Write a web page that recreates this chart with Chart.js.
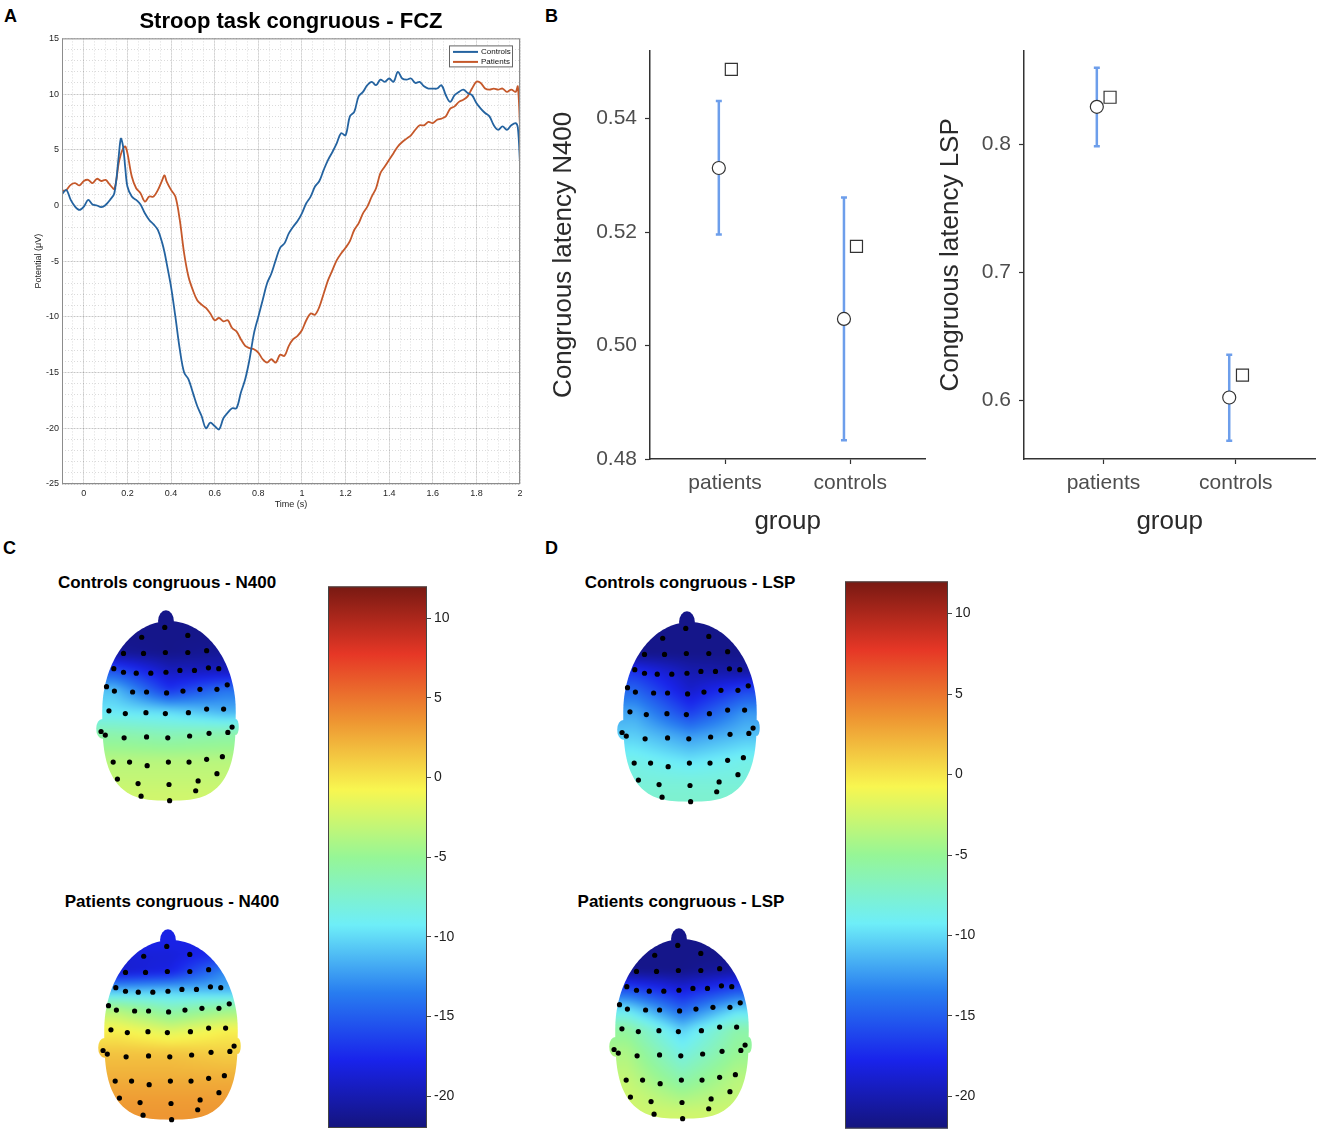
<!DOCTYPE html>
<html>
<head>
<meta charset="utf-8">
<title>Stroop task congruous</title>
<script src="https://cdn.jsdelivr.net/npm/chart.js@4.4.1/dist/chart.umd.min.js"></script>
<style>
  body { margin: 0; background: #fff; }
  #page { position: relative; width: 1325px; height: 1140px; overflow: hidden; font-family: "Liberation Sans", Arial, sans-serif; color: #000; }
  #page canvas { position: absolute; }
  .letter { position: absolute; font-weight: bold; font-size: 18px; line-height: 18px; }
  .maptitle { position: absolute; font-weight: bold; font-size: 17px; line-height: 17px; white-space: nowrap; transform: translate(-50%, -50%); }
</style>
</head>
<body>
<div id="page">
  <div class="letter" style="left:4px;top:7px">A</div>
  <div class="letter" style="left:545px;top:7px">B</div>
  <div class="letter" style="left:3px;top:539px">C</div>
  <div class="letter" style="left:545px;top:539px">D</div>

  <canvas id="erpChart" width="535" height="520" style="left:0;top:0"></canvas>
  <canvas id="n400Chart" width="390" height="510" style="left:545px;top:30px"></canvas>
  <canvas id="lspChart" width="395" height="510" style="left:930px;top:30px"></canvas>

  <div class="maptitle" style="left:167px;top:582px">Controls congruous - N400</div>
  <div class="maptitle" style="left:172px;top:901px">Patients congruous - N400</div>
  <div class="maptitle" style="left:690px;top:582px">Controls congruous - LSP</div>
  <div class="maptitle" style="left:681px;top:901px">Patients congruous - LSP</div>

  <canvas id="mapCtrlN400" width="190" height="230" style="left:74px;top:589px"></canvas>
  <canvas id="mapPatN400" width="190" height="230" style="left:76px;top:908px"></canvas>
  <canvas id="mapCtrlLSP" width="190" height="230" style="left:595px;top:590px"></canvas>
  <canvas id="mapPatLSP" width="190" height="230" style="left:587px;top:907px"></canvas>

  <canvas id="barN400" width="160" height="565" style="left:320px;top:575px"></canvas>
  <canvas id="barLSP" width="165" height="570" style="left:837px;top:570px"></canvas>
</div>

<script>
// ---- Panel A: grand average ERP at FCZ ----
const timePoints = [
  -0.1, -0.08, -0.06, -0.04, -0.02, 0, 0.02, 0.04, 0.06, 0.08,
  0.1, 0.12, 0.14, 0.16, 0.17, 0.18, 0.19, 0.2, 0.22, 0.24,
  0.26, 0.28, 0.3, 0.32, 0.34, 0.36, 0.37, 0.38, 0.4, 0.42,
  0.44, 0.46, 0.48, 0.5, 0.52, 0.54, 0.56, 0.58, 0.6, 0.62,
  0.64, 0.66, 0.68, 0.7, 0.72, 0.74, 0.76, 0.78, 0.8, 0.82,
  0.84, 0.86, 0.88, 0.9, 0.92, 0.94, 0.96, 0.98, 1.0, 1.02,
  1.04, 1.06, 1.08, 1.1, 1.12, 1.14, 1.16, 1.18, 1.2, 1.22,
  1.24, 1.26, 1.28, 1.3, 1.32, 1.34, 1.36, 1.38, 1.4, 1.42,
  1.44, 1.46, 1.48, 1.5, 1.52, 1.54, 1.56, 1.58, 1.6, 1.62,
  1.64, 1.66, 1.68, 1.7, 1.72, 1.74, 1.76, 1.78, 1.8, 1.82,
  1.84, 1.86, 1.88, 1.9, 1.92, 1.94, 1.96, 1.98, 1.99, 2.0
];
const controlsERP = [
  1.0, 1.4, 0.5, -0.1, -0.4, -0.1, 0.5, 0.1, 0.0, -0.15,
  0.05, 0.5, 1.1, 4.4, 6.0, 5.3, 3.4, 1.7, 0.8, 0.5,
  0.1, -0.7, -1.3, -1.7, -2.2, -3.4, -4.2, -5.2, -7.3, -10.0,
  -12.9, -15.0, -15.6, -16.8, -18.0, -18.9, -20.0, -19.5, -19.8, -20.1,
  -19.1, -18.6, -18.2, -18.2, -16.8, -15.6, -13.8, -11.5, -10.0, -8.5,
  -7.0, -6.1, -4.9, -3.8, -3.4, -2.5, -1.9, -1.4, -0.7, 0.2,
  0.8, 1.7, 2.2, 3.2, 4.1, 4.8, 5.6, 6.5, 6.3, 8.0,
  8.4, 9.8, 10.2, 10.8, 11.1, 10.8, 11.3, 11.1, 11.4, 11.1,
  12.0, 11.4, 11.3, 11.4, 11.0, 11.1, 10.7, 10.5, 10.5, 10.5,
  10.8, 9.9, 9.3, 9.9, 10.2, 10.4, 10.1, 9.9, 9.2, 8.7,
  8.3, 8.0, 7.2, 6.8, 7.1, 6.8, 7.2, 7.4, 7.0, 3.8
];
const patientsERP = [
  1.3, 1.4, 1.85, 2.0, 1.8, 2.2, 2.3, 2.0, 2.4, 2.2,
  2.3, 1.85, 1.5, 3.8, 4.6, 5.1, 5.3, 4.7, 2.6, 1.55,
  1.1, 0.35, 0.8, 0.8, 1.4, 2.3, 2.7, 2.15, 1.4, 0.8,
  -1.3, -4.3, -6.4, -7.6, -8.5, -8.9, -9.2, -9.7, -10.3, -10.1,
  -10.4, -10.3, -11.0, -11.3, -12.0, -12.6, -12.8, -12.9, -13.2, -13.8,
  -14.1, -13.8, -14.1, -13.4, -13.5, -12.6, -12.0, -11.7, -11.2, -10.3,
  -9.7, -9.8, -9.1, -7.9, -6.7, -5.8, -4.9, -4.3, -3.8, -3.2,
  -2.2, -1.6, -0.7, -0.1, 0.8, 1.55, 2.9, 3.5, 4.1, 4.7,
  5.3, 5.7, 6.0, 6.3, 6.8, 7.2, 7.2, 7.5, 7.4, 7.7,
  7.8, 8.0, 8.7, 8.9, 9.3, 9.5, 9.8, 10.5, 11.1, 11.0,
  10.5, 10.4, 10.5, 10.4, 10.5, 10.2, 10.4, 10.2, 10.7, 7.1
];

// ---- Panel B: latency by group ----
const groups = ['patients', 'controls'];
const n400Mean = [0.5313, 0.5047];
const n400Low = [0.5196, 0.4833];
const n400High = [0.5431, 0.5261];
const n400Square = [0.5487, 0.5175];
const lspMean = [0.8295, 0.6021];
const lspLow = [0.7987, 0.5683];
const lspHigh = [0.8600, 0.6355];
const lspSquare = [0.8370, 0.6196];

// ---- Panels C/D: scalp maps ----
// electrode layout (head coordinates, rows from front to back)
const electrodeRows = [
  [[-0.07, 0.93]],
  [[-0.45, 0.82], [0.31, 0.84]],
  [[-0.75, 0.64], [-0.42, 0.64], [-0.06, 0.65], [0.31, 0.65], [0.62, 0.67]],
  [[-0.91, 0.47], [-0.75, 0.43], [-0.54, 0.42], [-0.30, 0.42], [-0.05, 0.43], [0.18, 0.45], [0.42, 0.45], [0.65, 0.48], [0.82, 0.47]],
  [[-1.03, 0.27], [-0.90, 0.22], [-0.60, 0.21], [-0.37, 0.21], [-0.04, 0.20], [0.23, 0.22], [0.51, 0.24], [0.79, 0.24], [0.96, 0.29]],
  [[-0.99, 0.0], [-0.72, -0.03], [-0.38, -0.02], [-0.06, -0.03], [0.32, -0.02], [0.62, 0.02], [0.90, 0.02]],
  [[-1.12, -0.23], [-1.05, -0.27], [-0.74, -0.30], [-0.37, -0.29], [-0.02, -0.30], [0.34, -0.28], [0.66, -0.25], [0.97, -0.24], [1.04, -0.18]],
  [[-0.92, -0.57], [-0.65, -0.57], [-0.36, -0.61], [-0.01, -0.57], [0.33, -0.57], [0.62, -0.54], [0.88, -0.51]],
  [[-0.85, -0.76], [-0.51, -0.81], [0.0, -0.82], [0.48, -0.78], [0.79, -0.70]],
  [[-0.46, -0.95], [0.01, -1.0], [0.44, -0.89]]
];
// potential per electrode row: [left, midline, right] in µV
const ctrlN400 = [
  [-21.5, -21.5, -21.5], [-21.5, -21.5, -21.5], [-21, -21.5, -21], [-15.5, -19.5, -19.5], [-11, -17, -14],
  [-9.5, -10, -11.5], [-6, -6.5, -6], [-3.5, -3.5, -3.5], [-3, -3, -3], [-2.5, -2.5, -2.5]
];
const patN400 = [
  [-18, -18, -18], [-18.5, -18.5, -17], [-19, -18, -13], [-11.5, -11, -11.5], [-4, -6.5, -5],
  [-0.5, -2, -0.5], [1.5, 1.5, 1], [2.5, 2.5, 2.5], [3.2, 3.2, 3.2], [3.5, 3.5, 3.5]
];
const ctrlLSP = [
  [-21.5, -21.5, -21.5], [-21.5, -21.5, -21.5], [-21.5, -21.5, -21.5], [-17, -20, -20.5], [-14.5, -19, -16],
  [-12, -16.5, -12.5], [-10.5, -12.5, -11], [-8.5, -9.5, -8.5], [-8, -8, -8], [-7.5, -7.5, -7.5]
];
const patLSP = [
  [-21.5, -21.5, -21.5], [-21.5, -21.5, -21.5], [-21.5, -21.5, -20.5], [-16, -18.5, -16], [-10, -15, -10.5],
  [-5.5, -10.5, -6], [-4, -8.5, -5], [-3, -6, -3.5], [-2.5, -4, -3], [-2.5, -2.5, -2.5]
];
const colorRange = [-22, 12];

Chart.defaults.font.family = '"Liberation Sans", Arial, sans-serif';
Chart.defaults.animation = false;
Chart.defaults.color = '#222';

// jet-like colour map
const jetStops = [
  [0, [20, 20, 125]], [0.125, [25, 35, 235]], [0.25, [40, 125, 240]], [0.375, [110, 238, 248]],
  [0.5, [150, 246, 150]], [0.625, [248, 246, 80]], [0.75, [238, 150, 50]], [0.875, [230, 55, 38]], [1, [120, 25, 18]]
];
function jetRGB(value) {
  let t = (value - colorRange[0]) / (colorRange[1] - colorRange[0]);
  t = Math.max(0, Math.min(1, t));
  for (let i = 0; i < jetStops.length - 1; i++) {
    const [p0, c0] = jetStops[i], [p1, c1] = jetStops[i + 1];
    if (t <= p1) {
      const f = (t - p0) / (p1 - p0);
      return [0, 1, 2].map(k => Math.round(c0[k] + (c1[k] - c0[k]) * f));
    }
  }
  return jetStops[jetStops.length - 1][1];
}

// ================= Panel A =================
const matlabBox = {
  id: 'matlabBox',
  afterDraw(chart) {
    const {ctx, chartArea: a} = chart;
    ctx.save();
    ctx.strokeStyle = '#8c8c8c';
    ctx.lineWidth = 1;
    ctx.strokeRect(a.left + 0.5, a.top + 0.5, a.width - 1, a.height - 1);
    // legend in the upper right corner
    const w = 64, h = 22, x = a.right - 7 - w, y = a.top + 7;
    ctx.fillStyle = '#fff';
    ctx.fillRect(x, y, w, h);
    ctx.strokeStyle = '#666';
    ctx.strokeRect(x + 0.5, y + 0.5, w - 1, h - 1);
    ctx.font = '8px "Liberation Sans", Arial, sans-serif';
    ctx.textBaseline = 'middle';
    chart.data.datasets.forEach((ds, i) => {
      const ly = y + 6.5 + i * 10;
      ctx.strokeStyle = ds.borderColor;
      ctx.lineWidth = 2;
      ctx.beginPath();
      ctx.moveTo(x + 4, ly);
      ctx.lineTo(x + 29, ly);
      ctx.stroke();
      ctx.fillStyle = '#111';
      ctx.fillText(ds.label, x + 32, ly);
    });
    ctx.restore();
  }
};

new Chart(document.getElementById('erpChart'), {
  type: 'line',
  data: {
    datasets: [
      {
        label: 'Controls',
        data: timePoints.map((t, i) => ({x: t, y: controlsERP[i]})),
        borderColor: '#2463a0',
        borderWidth: 1.8,
        pointRadius: 0,
        tension: 0.35
      },
      {
        label: 'Patients',
        data: timePoints.map((t, i) => ({x: t, y: patientsERP[i]})),
        borderColor: '#c5582a',
        borderWidth: 1.8,
        pointRadius: 0,
        tension: 0.35
      }
    ]
  },
  options: {
    responsive: false,
    events: [],
    layout: {padding: {right: 15}},
    plugins: {
      legend: {display: false},
      tooltip: {enabled: false},
      title: {
        display: true,
        text: 'Stroop task congruous - FCZ',
        fullSize: false,
        color: '#000',
        font: {size: 22, weight: 'bold'},
        padding: {top: 9, bottom: 3}
      }
    },
    scales: {
      x: {
        type: 'linear',
        min: -0.1,
        max: 2,
        ticks: {
          stepSize: 0.2,
          includeBounds: false,
          autoSkip: false,
          maxRotation: 0,
          padding: 4,
          color: '#262626',
          font: {size: 9},
          callback: v => String(Number(v.toFixed(2)))
        },
        grid: {color: 'rgba(0,0,0,0.10)', drawTicks: false},
        border: {display: false},
        title: {display: true, text: 'Time (s)', color: '#262626', font: {size: 9}, padding: {top: 0, bottom: 10}},
        afterFit: s => { s.height = 36; }
      },
      xMinor: {
        type: 'linear',
        position: 'bottom',
        min: -0.1,
        max: 2,
        ticks: {display: false, stepSize: 0.05},
        grid: {color: 'rgba(0,0,0,0.14)', drawTicks: false, borderDash: [1, 2]},
        border: {display: false, dash: [1, 2]},
        afterFit: s => { s.height = 0; }
      },
      y: {
        min: -25,
        max: 15,
        ticks: {stepSize: 5, padding: 3, color: '#262626', font: {size: 9}},
        grid: {color: 'rgba(0,0,0,0.10)', drawTicks: false},
        border: {display: false},
        title: {display: true, text: 'Potential (μV)', color: '#262626', font: {size: 9}, padding: {top: 33, bottom: 0}},
        afterFit: s => { s.width = 62; }
      },
      yMinor: {
        type: 'linear',
        position: 'left',
        min: -25,
        max: 15,
        ticks: {display: false, stepSize: 1},
        grid: {color: 'rgba(0,0,0,0.14)', drawTicks: false, borderDash: [1, 2]},
        border: {display: false, dash: [1, 2]},
        afterFit: s => { s.width = 0; }
      }
    }
  },
  plugins: [matlabBox]
});

// ================= Panel B =================
const errColor = '#6d9eeb';
const dodgeMean = -0.05;
const dodgeSquare = 0.05;

function latencyChart(id, means, lows, highs, squares, yMin, yMax, yStep, decimals, yTitle, axisWidth, pad, titlePad) {
  const errorSets = groups.map((g, i) => ({
    type: 'line',
    data: [{x: i + 1 + dodgeMean, y: lows[i]}, {x: i + 1 + dodgeMean, y: highs[i]}],
    borderColor: errColor,
    borderWidth: 2.5,
    pointStyle: 'line',
    pointRadius: 3,
    pointBorderWidth: 2.5,
    pointBorderColor: errColor,
    order: 3
  }));
  const axisCommon = {
    grid: {drawOnChartArea: false, drawTicks: true, tickLength: 5, tickColor: '#333', tickWidth: 1.2},
    border: {color: '#333', width: 1.5}
  };
  return new Chart(document.getElementById(id), {
    type: 'scatter',
    data: {
      datasets: [
        ...errorSets,
        {
          data: squares.map((v, i) => ({x: i + 1 + dodgeSquare, y: v})),
          pointStyle: 'rect',
          pointRadius: 8.5,
          backgroundColor: '#fff',
          borderColor: '#333',
          borderWidth: 1.2,
          order: 2
        },
        {
          data: means.map((v, i) => ({x: i + 1 + dodgeMean, y: v})),
          pointStyle: 'circle',
          pointRadius: 6.5,
          backgroundColor: '#fff',
          borderColor: '#333',
          borderWidth: 1.2,
          order: 1
        }
      ]
    },
    options: {
      responsive: false,
      events: [],
      layout: {padding: pad},
      plugins: {legend: {display: false}, tooltip: {enabled: false}},
      scales: {
        x: {
          type: 'linear',
          min: 0.4,
          max: 2.6,
          afterBuildTicks: s => { s.ticks = groups.map((g, i) => ({value: i + 1})); },
          ticks: {
            autoSkip: false,
            maxRotation: 0,
            padding: 7,
            color: '#4d4d4d',
            font: {size: 21},
            callback: v => groups[Math.round(v) - 1]
          },
          ...axisCommon,
          title: {display: true, text: 'group', color: '#2a2a2a', font: {size: 26}, padding: {top: 0, bottom: 3}},
          afterFit: s => { s.height = 81; }
        },
        y: {
          min: yMin,
          max: yMax,
          ticks: {
            stepSize: yStep,
            includeBounds: false,
            padding: 8,
            color: '#4d4d4d',
            font: {size: 21},
            callback: v => v.toFixed(decimals)
          },
          ...axisCommon,
          title: {display: true, text: yTitle, color: '#2a2a2a', font: {size: 26}, padding: {top: titlePad, bottom: 0}},
          afterFit: s => { s.width = axisWidth; }
        }
      }
    }
  });
}

latencyChart('n400Chart', n400Mean, n400Low, n400High, n400Square,
  0.48, 0.552, 0.02, 2, 'Congruous latency N400', 105, {top: 15, right: 9}, 3);
latencyChart('lspChart', lspMean, lspLow, lspHigh, lspSquare,
  0.554, 0.8735, 0.1, 1, 'Congruous latency LSP', 94, {top: 17, right: 8}, 5);

// ================= Panels C / D =================
const rowCentres = electrodeRows.map(r => r.reduce((s, p) => s + p[1], 0) / r.length);

function rowValueAt(vals, u) {
  const t = Math.max(-1, Math.min(1, u / 0.9));
  return t < 0 ? vals[1] + (vals[0] - vals[1]) * (-t) : vals[1] + (vals[2] - vals[1]) * t;
}
function fieldAt(u, v, rows) {
  const last = rowCentres.length - 1;
  if (v >= rowCentres[0]) return rowValueAt(rows[0], u);
  if (v <= rowCentres[last]) return rowValueAt(rows[last], u);
  for (let i = 0; i < last; i++) {
    if (v <= rowCentres[i] && v >= rowCentres[i + 1]) {
      const f = (rowCentres[i] - v) / (rowCentres[i] - rowCentres[i + 1]);
      return rowValueAt(rows[i], u) * (1 - f) + rowValueAt(rows[i + 1], u) * f;
    }
  }
  return rowValueAt(rows[last], u);
}

function headShapes(ctx, cx, cy, sx, sy) {
  const shapes = [];
  // scalp: round front half, squarer back half
  shapes.push(() => {
    const a = 1.1, n = 3;
    ctx.beginPath();
    for (let k = 0; k <= 180; k++) {
      const t = k / 180 * 2 * Math.PI;
      const c = Math.cos(t), s = Math.sin(t);
      let u, v;
      if (s >= 0) { u = a * c; v = s; }
      else { u = a * Math.sign(c) * Math.pow(Math.abs(c), 2 / n); v = -Math.pow(-s, 2 / n); }
      const X = cx + u * sx, Y = cy - v * sy;
      if (k) ctx.lineTo(X, Y); else ctx.moveTo(X, Y);
    }
    ctx.closePath();
  });
  // ears and nose
  [[-1.1, -0.2, 0.1, 0.11], [1.1, -0.18, 0.05, 0.09], [-0.05, 1.0, 0.13, 0.12]].forEach(([eu, ev, ru, rv]) => {
    shapes.push(() => {
      ctx.beginPath();
      ctx.ellipse(cx + eu * sx, cy - ev * sy, ru * sx, rv * sy, 0, 0, 2 * Math.PI);
    });
  });
  return shapes;
}

function topoPlugin(rows) {
  return {
    id: 'topoField',
    beforeDatasetsDraw(chart) {
      const {ctx, chartArea: a, scales: {x, y}} = chart;
      const w = Math.round(a.width), h = Math.round(a.height);
      const off = document.createElement('canvas');
      off.width = w;
      off.height = h;
      const octx = off.getContext('2d');
      const img = octx.createImageData(w, h);
      for (let py = 0; py < h; py++) {
        const v = y.getValueForPixel(a.top + py + 0.5);
        for (let px = 0; px < w; px++) {
          const u = x.getValueForPixel(a.left + px + 0.5);
          const c = jetRGB(fieldAt(u, v, rows));
          const k = (py * w + px) * 4;
          img.data[k] = c[0];
          img.data[k + 1] = c[1];
          img.data[k + 2] = c[2];
          img.data[k + 3] = 255;
        }
      }
      octx.putImageData(img, 0, 0);
      // soften the row-to-row interpolation
      const soft = document.createElement('canvas');
      soft.width = w;
      soft.height = h;
      const sctx = soft.getContext('2d');
      sctx.drawImage(off, 0, 0);
      sctx.filter = 'blur(3px)';
      sctx.drawImage(off, 0, 0);
      const cx = x.getPixelForValue(0), cy = y.getPixelForValue(0);
      const sx = x.getPixelForValue(1) - cx, sy = cy - y.getPixelForValue(1);
      headShapes(ctx, cx, cy, sx, sy).forEach(shape => {
        ctx.save();
        shape();
        ctx.clip();
        ctx.drawImage(soft, a.left, a.top, w, h);
        ctx.restore();
      });
    }
  };
}

function topoChart(id, rows) {
  new Chart(document.getElementById(id), {
    type: 'scatter',
    data: {
      datasets: [{
        data: electrodeRows.flat().map(([u, v]) => ({x: u, y: v})),
        pointRadius: 2.6,
        backgroundColor: '#000',
        borderWidth: 0
      }]
    },
    options: {
      responsive: false,
      events: [],
      layout: {padding: 0},
      plugins: {legend: {display: false}, tooltip: {enabled: false}},
      scales: {
        x: {type: 'linear', display: false, min: -1.5, max: 1.5},
        y: {type: 'linear', display: false, min: -1.16, max: 1.313}
      }
    },
    plugins: [topoPlugin(rows)]
  });
}

topoChart('mapCtrlN400', ctrlN400);
topoChart('mapPatN400', patN400);
topoChart('mapCtrlLSP', ctrlLSP);
topoChart('mapPatLSP', patLSP);

const barFrame = {
  id: 'barFrame',
  afterDraw(chart) {
    const {ctx, chartArea: a} = chart;
    ctx.save();
    ctx.strokeStyle = '#444';
    ctx.lineWidth = 1;
    ctx.strokeRect(a.left + 0.5, a.top + 0.5, a.width - 1, a.height - 1);
    ctx.restore();
  }
};

function colorbarChart(id, pad, axisWidth) {
  new Chart(document.getElementById(id), {
    type: 'bar',
    data: {
      labels: [''],
      datasets: [{
        data: [colorRange],
        barPercentage: 1,
        categoryPercentage: 1,
        borderWidth: 0,
        backgroundColor: c => {
          const chart = c.chart;
          const a = chart.chartArea;
          if (!a) return '#888';
          const ys = chart.scales.y;
          const g = chart.ctx.createLinearGradient(0, ys.getPixelForValue(colorRange[0]), 0, ys.getPixelForValue(colorRange[1]));
          jetStops.forEach(([p, rgb]) => g.addColorStop(p, 'rgb(' + rgb.join(',') + ')'));
          return g;
        }
      }]
    },
    options: {
      responsive: false,
      events: [],
      layout: {padding: pad},
      plugins: {legend: {display: false}, tooltip: {enabled: false}},
      scales: {
        x: {display: false},
        y: {
          position: 'right',
          min: colorRange[0],
          max: colorRange[1],
          ticks: {stepSize: 5, includeBounds: false, padding: 3, color: '#222', font: {size: 14}},
          grid: {drawOnChartArea: false, drawTicks: true, tickLength: 4, tickColor: '#444'},
          border: {display: false},
          afterFit: s => { s.width = axisWidth; }
        }
      }
    },
    plugins: [barFrame]
  });
}

colorbarChart('barN400', {left: 8, top: 10, bottom: 12, right: 0}, 53);
colorbarChart('barLSP', {left: 8, top: 10, bottom: 6, right: 0}, 54);
</script>
</body>
</html>
